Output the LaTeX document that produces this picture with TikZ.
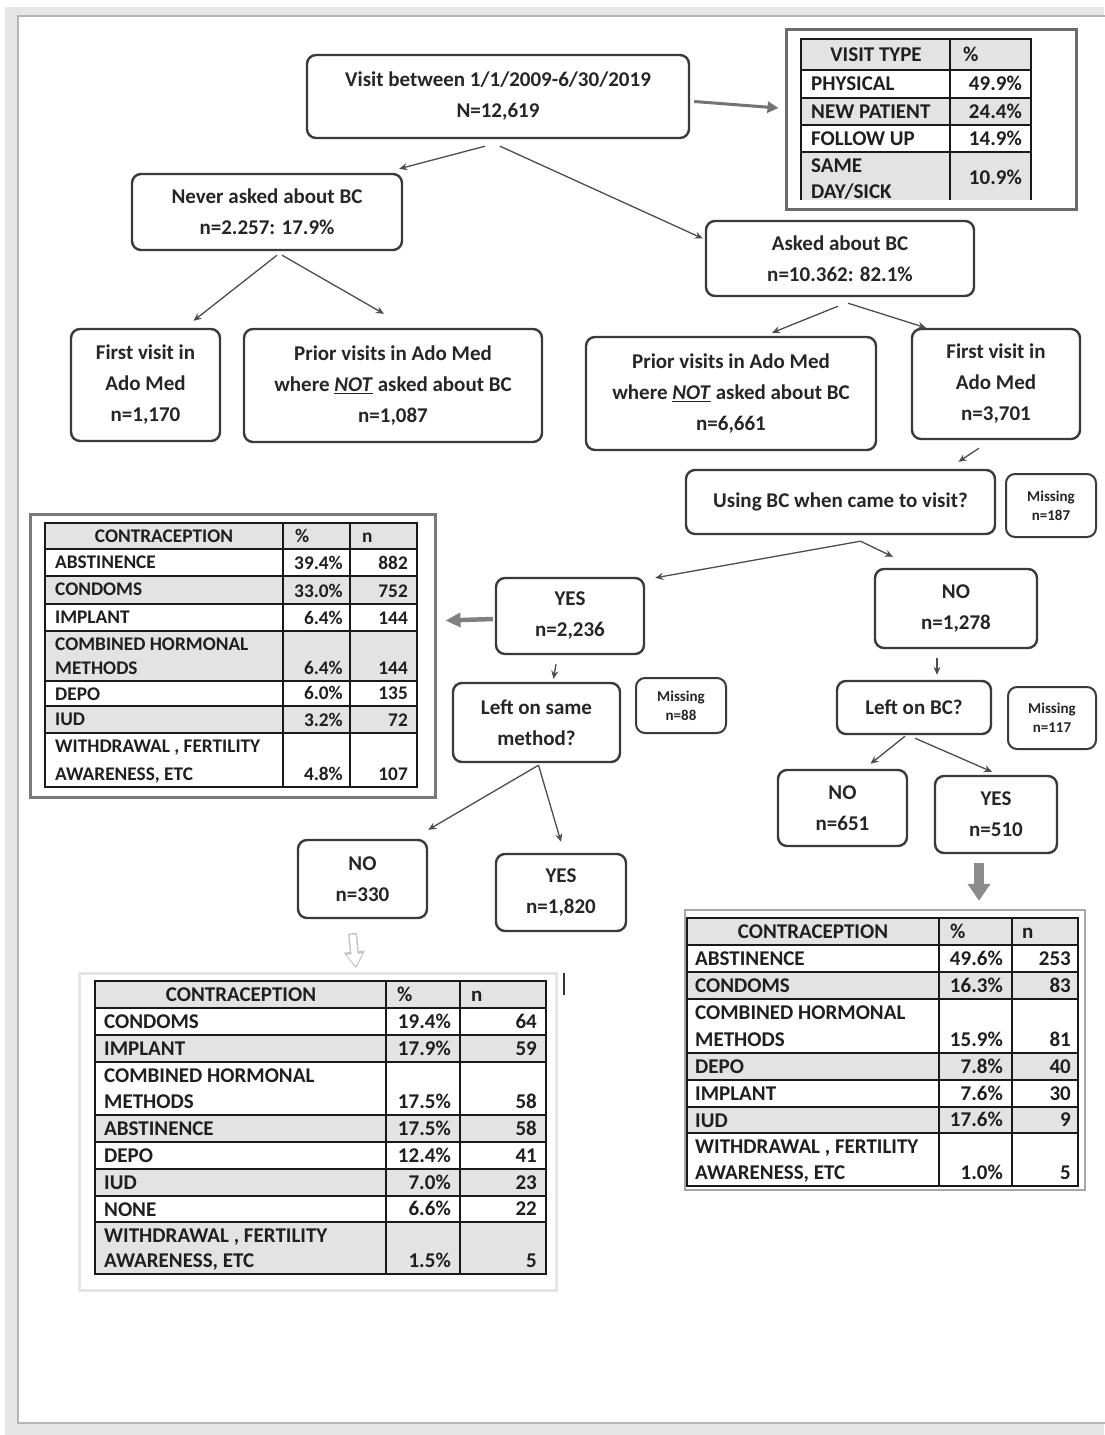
\documentclass[tikz,border=0pt]{standalone}
\usepackage{fontspec}
\setmainfont{Carlito}
\usetikzlibrary{arrows.meta}

\definecolor{boxline}{HTML}{3A3A3A}
\definecolor{arrgray}{HTML}{4D4D4D}
\definecolor{rowgray}{HTML}{E3E3E3}
\definecolor{pagegray}{HTML}{E6E6E6}
\definecolor{pageline}{HTML}{B4B4B4}
\definecolor{hollowgray}{HTML}{C4C4C4}

\tikzset{
  box/.style={draw=boxline, line width=2.4pt, rounded corners=9pt, align=center,
    inner sep=0pt, text=black!85, font=\fontsize{21}{31}\selectfont\bfseries},
  miss/.style={box, line width=2pt, font=\fontsize{15}{19}\selectfont\bfseries},
  frame/.style={draw=#1, line width=3pt, inner sep=0pt},
  cell/.style={inner sep=0pt, text height=13pt, text depth=0pt, text=black!88,
    font=\fontsize{21}{23}\selectfont\bfseries},
  smallcell/.style={cell, text height=12pt, font=\fontsize{19.3}{21}\selectfont\bfseries},
  grid/.style={draw=black!90, line width=1.6pt},
  arr/.style={draw=arrgray, line width=1.3pt, -{Stealth[length=8pt,width=7pt]}},
  bigarr/.style={draw=black!55, line width=3pt, -{Triangle[length=11pt,width=11pt]}},
  midarr/.style={draw=black!50, line width=4.5pt, -{Triangle[length=15pt,width=14pt]}},
  blockarr/.style={draw=black!45, line width=10pt, -{Triangle[length=17pt,width=22pt]}},
  hollowout/.style={draw=hollowgray, line width=9pt, -{Triangle[length=17pt,width=20pt]}},
  hollowin/.style={draw=white, line width=6pt, -{Triangle[length=12pt,width=15pt]},
    shorten >=2.5pt, shorten <=1.5pt}
}

\begin{document}
\begin{tikzpicture}[x=1pt,y=-1pt]
\useasboundingbox (0,0) rectangle (1104,1435);
\fill[pagegray] (5,7) rectangle (1104,1435);
\filldraw[fill=white, draw=pageline, line width=2pt] (18,16) rectangle (1112,1423);

% table frames
\path (931,119) node[frame=black!58, minimum width=290, minimum height=180] (vt) {}
      (232.5,655.5) node[frame=black!52, minimum width=405, minimum height=283] (ct1) {}
      (885,1050) node[frame=black!35, line width=2.5pt, minimum width=400, minimum height=280] (ct2) {}
      (317.5,1131.5) node[frame=black!10, minimum width=477, minimum height=317] (ct3) {};

% visit type table
\filldraw[grid, fill=rowgray] (801,39) rectangle (950,70) (950,39) rectangle (1031,70);
\node[cell] at (876,54.5) {VISIT TYPE};
\node[cell, anchor=west] at (963,54.5) {\%};
\foreach \ya/\yb/\sh/\la/\pc in {70/98/white/PHYSICAL/49.9\%, 98/125/rowgray/NEW PATIENT/24.4\%,
    125/152/white/FOLLOW UP/14.9\%}{
  \filldraw[grid, fill=\sh] (801,\ya) rectangle (950,\yb) (950,\ya) rectangle (1031,\yb);
  \node[cell, anchor=west] at (811,\ya/2+\yb/2) {\la};
  \node[cell, anchor=east] at (1022,\ya/2+\yb/2) {\pc};
}
\fill[rowgray] (801,152) rectangle (1031,200);
\draw[grid] (801,200) -- (801,152) -- (1031,152) -- (1031,200) (950,152) -- (950,200);
\node[cell, anchor=west] at (811,166) {SAME};
\node[cell, anchor=west] at (811,192) {DAY/SICK};
\node[cell, anchor=east] at (1022,178) {10.9\%};

% contraception table, YES
\filldraw[grid, fill=rowgray] (45,523) rectangle (283,549) (283,523) rectangle (350,549) (350,523) rectangle (417,549);
\node[smallcell] at (164,536) {CONTRACEPTION};
\node[smallcell, anchor=west] at (295,536) {\%};
\node[smallcell, anchor=west] at (362,536) {n};
\foreach \ya/\yb/\sh/\la/\lb/\pc/\nn in {549/576/white/ABSTINENCE/{}/39.4\%/882,
    576/604/rowgray/CONDOMS/{}/33.0\%/752, 604/631/white/IMPLANT/{}/6.4\%/144,
    631/681/rowgray/COMBINED HORMONAL/METHODS/6.4\%/144, 681/706/white/DEPO/{}/6.0\%/135,
    706/733/rowgray/IUD/{}/3.2\%/72, 733/787/white/{WITHDRAWAL , FERTILITY}/{AWARENESS, ETC}/4.8\%/107}{
  \filldraw[grid, fill=\sh] (45,\ya) rectangle (283,\yb) (283,\ya) rectangle (350,\yb) (350,\ya) rectangle (417,\yb);
  \node[smallcell, anchor=west] at (55,\ya+13.5) {\la};
  \node[smallcell, anchor=west] at (55,\yb-13) {\lb};
  \node[smallcell, anchor=east] at (343,\yb-13) {\pc};
  \node[smallcell, anchor=east] at (408,\yb-13) {\nn};
}

% contraception table, left on BC
\filldraw[grid, fill=rowgray] (687,918) rectangle (939,945) (939,918) rectangle (1012,945) (1012,918) rectangle (1078,945);
\node[cell] at (813,931.5) {CONTRACEPTION};
\node[cell, anchor=west] at (950,931.5) {\%};
\node[cell, anchor=west] at (1022,931.5) {n};
\foreach \ya/\yb/\sh/\la/\lb/\pc/\nn in {945/972/white/ABSTINENCE/{}/49.6\%/253,
    972/999/rowgray/CONDOMS/{}/16.3\%/83, 999/1053/white/COMBINED HORMONAL/METHODS/15.9\%/81,
    1053/1080/rowgray/DEPO/{}/7.8\%/40, 1080/1107/white/IMPLANT/{}/7.6\%/30,
    1107/1133/rowgray/IUD/{}/17.6\%/9, 1133/1186/white/{WITHDRAWAL , FERTILITY}/{AWARENESS, ETC}/1.0\%/5}{
  \filldraw[grid, fill=\sh] (687,\ya) rectangle (939,\yb) (939,\ya) rectangle (1012,\yb) (1012,\ya) rectangle (1078,\yb);
  \node[cell, anchor=west] at (695,\ya+13.5) {\la};
  \node[cell, anchor=west] at (695,\yb-13) {\lb};
  \node[cell, anchor=east] at (1003,\yb-13) {\pc};
  \node[cell, anchor=east] at (1071,\yb-13) {\nn};
}

% contraception table, not left on same method
\filldraw[grid, fill=rowgray] (95,981) rectangle (386,1008) (386,981) rectangle (460,1008) (460,981) rectangle (546,1008);
\node[cell] at (241,994.5) {CONTRACEPTION};
\node[cell, anchor=west] at (397,994.5) {\%};
\node[cell, anchor=west] at (471,994.5) {n};
\foreach \ya/\yb/\sh/\la/\lb/\pc/\nn in {1008/1035/white/CONDOMS/{}/19.4\%/64,
    1035/1062/rowgray/IMPLANT/{}/17.9\%/59, 1062/1115/white/COMBINED HORMONAL/METHODS/17.5\%/58,
    1115/1142/rowgray/ABSTINENCE/{}/17.5\%/58, 1142/1169/white/DEPO/{}/12.4\%/41,
    1169/1196/rowgray/IUD/{}/7.0\%/23, 1196/1222/white/NONE/{}/6.6\%/22,
    1222/1274/rowgray/{WITHDRAWAL , FERTILITY}/{AWARENESS, ETC}/1.5\%/5}{
  \filldraw[grid, fill=\sh] (95,\ya) rectangle (386,\yb) (386,\ya) rectangle (460,\yb) (460,\ya) rectangle (546,\yb);
  \node[cell, anchor=west] at (104,\ya+13.5) {\la};
  \node[cell, anchor=west] at (104,\yb-13) {\lb};
  \node[cell, anchor=east] at (451,\yb-13) {\pc};
  \node[cell, anchor=east] at (537,\yb-13) {\nn};
}
\draw[line width=1.5pt, black!80] (564,973) -- (564,995);

% boxes
\path (498,96.5) node[box, minimum width=382, minimum height=83] (visit) {Visit between 1/1/2009-6/30/2019\\N=12,619}
      (267,212) node[box, minimum width=270, minimum height=76] (never) {Never asked about BC\\n=2.257: 17.9\%}
      (840,258.5) node[box, minimum width=268, minimum height=75] (asked) {Asked about BC\\n=10.362: 82.1\%}
      (145.5,385) node[box, minimum width=149, minimum height=112] (first1) {First visit in\\Ado Med\\n=1,170}
      (393,385.5) node[box, minimum width=298, minimum height=113] (prior1) {Prior visits in Ado Med\\where \underline{\textit{NOT}} asked about BC\\n=1,087}
      (731,393.5) node[box, minimum width=290, minimum height=113] (prior2) {Prior visits in Ado Med\\where \underline{\textit{NOT}} asked about BC\\n=6,661}
      (996,384) node[box, minimum width=168, minimum height=110] (first2) {First visit in\\Ado Med\\n=3,701}
      (840.5,502) node[box, minimum width=309, minimum height=64] (using) {Using BC when came to visit?}
      (1051,505.5) node[miss, minimum width=90, minimum height=63] (miss1) {Missing\\n=187}
      (570,616) node[box, minimum width=148, minimum height=76] (yes1) {YES\\n=2,236}
      (956,608.5) node[box, minimum width=162, minimum height=79] (no1) {NO\\n=1,278}
      (536.5,722.5) node[box, minimum width=167, minimum height=79] (same) {Left on same\\method?}
      (681,705.5) node[miss, minimum width=90, minimum height=55] (miss2) {Missing\\n=88}
      (914,707.5) node[box, minimum width=154, minimum height=53] (lefton) {Left on BC?}
      (1052,718) node[miss, minimum width=88, minimum height=62] (miss3) {Missing\\n=117}
      (362.5,879) node[box, minimum width=129, minimum height=78] (no2) {NO\\n=330}
      (561,892.5) node[box, minimum width=130, minimum height=77] (yes2) {YES\\n=1,820}
      (842.5,808) node[box, minimum width=129, minimum height=76] (no3) {NO\\n=651}
      (996,814.5) node[box, minimum width=122, minimum height=77] (yes3) {YES\\n=510};

% connectors
\draw[arr] ([shift={(-13,7)}]visit.south) -- ([shift={(-4,-4)}]never.north east);
\draw[arr] ([shift={(2,7)}]visit.south) -- ([shift={(-2,-20)}]asked.west);
\draw[bigarr] ([shift={(4,5)}]visit.east) -- ([shift={(-6,-11)}]vt.west);
\draw[arr] ([shift={(10,4)}]never.south) -- ([shift={(48,-7)}]first1.north);
\draw[arr] ([shift={(15,4)}]never.south) -- ([shift={(-9,-14)}]prior1.north);
\draw[arr] ([shift={(-2,9)}]asked.south) -- ([shift={(41,-3)}]prior2.north);
\draw[arr] ([shift={(8,6)}]asked.south) -- ([shift={(-70,0)}]first2.north);
\draw[arr] ([shift={(-17,8)}]first2.south) -- ([shift={(118,-7)}]using.north);
\draw[arr] ([shift={(20,6)}]using.south) -- ([shift={(10,1)}]yes1.north east);
\draw[arr] ([shift={(20,6)}]using.south) -- ([shift={(-63,-11)}]no1.north);
\draw[midarr] ([shift={(-2,3)}]yes1.west) -- ([shift={(9,-35)}]ct1.east);
\draw[arr] ([shift={(-14,9)}]yes1.south) -- ([shift={(17,-3)}]same.north);
\draw[arr] ([shift={(-19,9)}]no1.south) -- ([shift={(23,-5)}]lefton.north);
\draw[arr] ([shift={(2,2)}]same.south) -- ([shift={(0,-9)}]no2.north east);
\draw[arr] ([shift={(2,2)}]same.south) -- ([shift={(0,-11)}]yes2.north);
\draw[arr] ([shift={(-9,1)}]lefton.south) -- ([shift={(28,-5)}]no3.north);
\draw[arr] ([shift={(1,3)}]lefton.south) -- ([shift={(-4,-3)}]yes3.north);
\draw[blockarr] ([shift={(-17,9)}]yes3.south) -- ([shift={(94,-8)}]ct2.north);
\draw[hollowout] ([shift={(-10,14)}]no2.south) -- ([shift={(38.5,-3)}]ct3.north);
\draw[hollowin] ([shift={(-10,14)}]no2.south) -- ([shift={(38.5,-3)}]ct3.north);
\end{tikzpicture}
\end{document}
